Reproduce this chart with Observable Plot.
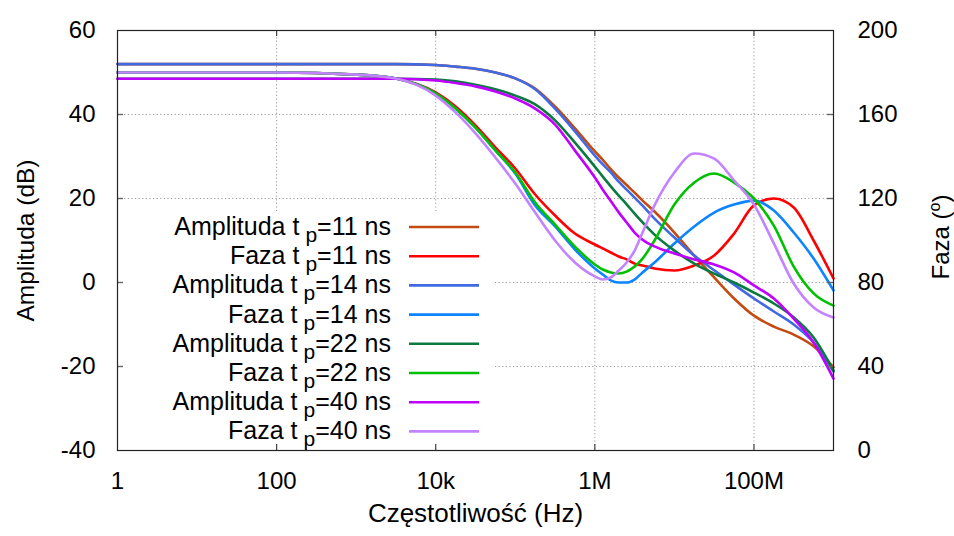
<!DOCTYPE html>
<html>
<head>
<meta charset="utf-8">
<script src="https://cdn.jsdelivr.net/npm/d3@7"></script>
<script src="https://cdn.jsdelivr.net/npm/@observablehq/plot@0.6"></script>
<style>
  html, body { margin: 0; padding: 0; background: #ffffff; }
  #chart svg { display: block; }
</style>
</head>
<body>
<div id="chart"></div>
<script>
// Frequency sample points (Hz)
const freqHz = [1, 10, 100, 1000, 3162, 10000, 17783, 31623, 56234, 100000,
  177828, 316228, 562341, 1000000, 1258925, 1584893, 1995262, 2511886, 3162278, 3981072,
  5623413, 10000000, 17782794, 31622777, 56234133, 100000000, 177827941, 316227766, 562341325, 1000000000];

// Amplitude (dB), left axis
const amp11 = [52, 52, 52, 52, 52, 51.8, 51.4, 50.9, 50.0, 48.6,
  46.2, 41.9, 36.7, 31.2, 29.2, 27.0, 25.0, 23.2, 21.4, 19.5,
  16.9, 11.9, 6.4, 1.2, -3.8, -7.9, -10.5, -12.4, -15.2, -20.2];
const amp14 = [52, 52, 52, 52, 52, 51.8, 51.4, 50.9, 50.0, 48.6,
  46.0, 41.4, 36.0, 30.2, 28.1, 26.2, 24.0, 22.1, 20.2, 18.3,
  15.2, 10.7, 6.4, 2.9, -0.5, -3.8, -6.9, -10.0, -14.3, -21.2];
const amp22 = [48.5, 48.5, 48.5, 48.5, 48.5, 48.3, 47.9, 47.1, 46.0, 44.5,
  42.4, 38.6, 33.3, 27.6, 25.2, 22.9, 20.7, 18.6, 16.4, 14.3,
  11.4, 7.6, 4.5, 2.1, 0.0, -2.4, -5.0, -8.3, -13.1, -21.0];
const amp40 = [48.5, 48.5, 48.5, 48.5, 48.5, 48.1, 47.5, 46.7, 45.5, 43.8,
  41.4, 37.6, 31.4, 25.0, 22.1, 19.4, 16.7, 14.3, 11.9, 10.2,
  8.6, 6.9, 5.5, 4.3, 2.4, -0.7, -3.8, -8.6, -14.3, -22.9];

// Phase (degrees), right axis
const phase11 = [180, 180, 180, 179.0, 177.1, 170.5, 163.8, 154.8, 144.3, 134.3,
  121.9, 111.9, 103.3, 98.1, 96.2, 94.3, 92.4, 91.0, 89.0, 88.1,
  86.7, 85.7, 88.1, 92.9, 103.3, 116.7, 120.0, 115.7, 100.0, 81.9];
const phase14 = [180, 180, 180, 179.0, 177.1, 170.0, 162.9, 153.8, 142.9, 131.9,
  116.7, 106.7, 95.7, 86.7, 83.8, 81.0, 80.0, 80.0, 81.4, 84.8,
  89.5, 98.6, 106.7, 113.3, 117.1, 119.0, 114.3, 103.8, 91.4, 76.2];
const phase22 = [180, 180, 180, 179.0, 177.1, 170.0, 162.9, 153.8, 142.9, 132.4,
  118.1, 107.6, 97.1, 88.6, 86.2, 84.8, 84.3, 85.2, 87.6, 91.4,
  100.0, 117.1, 127.6, 131.9, 127.6, 120.0, 107.1, 87.6, 74.8, 69.0];
const phase40 = [180, 180, 180, 179.0, 177.1, 169.0, 161.0, 151.0, 139.5, 127.1,
  113.3, 100.0, 89.5, 82.9, 81.4, 82.4, 85.7, 89.5, 95.2, 103.8,
  116.7, 132.4, 141.4, 139.0, 128.6, 117.1, 98.6, 79.5, 68.1, 63.3];

// Series metadata (in drawing / legend order)
const seriesKinds  = ["Amplituda", "Faza", "Amplituda", "Faza", "Amplituda", "Faza", "Amplituda", "Faza"];
const seriesTp     = ["11", "11", "14", "14", "22", "22", "40", "40"];
const seriesValues = [amp11, phase11, amp14, phase14, amp22, phase22, amp40, phase40];
const seriesColors = ["#c44a12", "#ff0000", "#4169e1", "#0a84ff", "#0a7a40", "#00c000", "#c000ff", "#c383ff"];

// Axes
const xTickValues = [1, 100, 10000, 1000000, 100000000];
const xTickLabels = ["1", "100", "10k", "1M", "100M"];
const ampTicks   = [-40, -20, 0, 20, 40, 60];
const phaseTicks = [0, 40, 80, 120, 160, 200];
const ampDomain = [-40, 60];
const phaseDomain = [0, 200];

// map a phase value onto the amplitude (left) scale
const phaseToAmp = p => ampDomain[0] + (p - phaseDomain[0]) * (ampDomain[1] - ampDomain[0]) / (phaseDomain[1] - phaseDomain[0]);

const FONT = "'Liberation Sans', Arial, Helvetica, sans-serif";

const lineMarks = seriesValues.map((vals, i) => {
  const rows = freqHz.map((f, j) => ({f, v: vals[j]}));
  const isPhase = seriesKinds[i] === "Faza";
  return Plot.line(rows, {
    x: "f",
    y: isPhase ? d => phaseToAmp(d.v) : "v",
    stroke: seriesColors[i],
    strokeWidth: 2.6,
    curve: "monotone-x"
  });
});

const gridX = xTickValues.slice(1);
const gridY = ampTicks.slice(1, -1);

const plot = Plot.plot({
  width: 954,
  height: 536,
  marginLeft: 117,
  marginRight: 121,
  marginTop: 30,
  marginBottom: 86,
  style: {fontFamily: FONT, fontSize: "24px", color: "#000", background: "#fff"},
  x: {type: "log", domain: [1, 1e9]},
  y: {domain: ampDomain},
  marks: [
    Plot.ruleX(gridX, {x: d => d, stroke: "#9a9a9a", strokeWidth: 1, strokeDasharray: "1.2,2.4"}),
    Plot.ruleY(gridY, {y: d => d, stroke: "#9a9a9a", strokeWidth: 1, strokeDasharray: "1.2,2.4"}),
    ...lineMarks,
    Plot.tickX(gridX, {x: d => d, insetTop: 414, stroke: "#444", strokeWidth: 1.2}),
    Plot.tickX(gridX, {x: d => d, insetBottom: 414, stroke: "#444", strokeWidth: 1.2}),
    Plot.tickY(gridY, {y: d => d, insetRight: 710, stroke: "#666", strokeWidth: 1.4}),
    Plot.tickY(gridY, {y: d => d, insetLeft: 710, stroke: "#666", strokeWidth: 1.4}),
    Plot.frame({stroke: "#222", strokeWidth: 1.2}),
    Plot.axisX(xTickValues, {tickSize: 0, tickPadding: 21, label: null, fontSize: 24,
      tickFormat: d => xTickLabels[xTickValues.indexOf(d)]}),
    Plot.axisY(ampTicks, {anchor: "left", tickSize: 0, tickPadding: 22, label: null, fontSize: 24,
      tickFormat: d => String(d)}),
    Plot.axisY(ampTicks, {anchor: "right", tickSize: 0, tickPadding: 24, label: null, fontSize: 24,
      tickFormat: d => String(phaseTicks[ampTicks.indexOf(d)])}),
    Plot.text(["Częstotliwość (Hz)"], {frameAnchor: "bottom", dy: 71, fontSize: 26, textAnchor: "middle"}),
    Plot.text(["Amplituda (dB)"], {frameAnchor: "left", dx: -91, rotate: -90, fontSize: 24.5, textAnchor: "middle"})
  ]
});

document.getElementById("chart").appendChild(plot);

// ---- legend (opaque key box) and right-axis label with superscript ----
const svg = d3.select(plot);
const firstLine = plot.querySelector('g[aria-label="line"]');
const keyBg = document.createElementNS("http://www.w3.org/2000/svg", "rect");
keyBg.setAttribute("x", 118);
keyBg.setAttribute("y", 211);
keyBg.setAttribute("width", 375);
keyBg.setAttribute("height", 233);
keyBg.setAttribute("fill", "#ffffff");
firstLine.parentNode.insertBefore(keyBg, firstLine);

const key = svg.append("g").attr("font-family", FONT).attr("font-size", 25).attr("fill", "#000");
seriesKinds.forEach((kind, i) => {
  const ry = 227 + i * 29.2;
  const t = key.append("text").attr("x", 391).attr("y", ry + 8).attr("text-anchor", "end");
  t.append("tspan").text(kind + " t");
  t.append("tspan").attr("dx", 6).attr("dy", 7).attr("font-size", 21).text("p");
  t.append("tspan").attr("dy", -7).text("=" + seriesTp[i] + " ns");
  key.append("line")
    .attr("x1", 409).attr("x2", 479).attr("y1", ry).attr("y2", ry)
    .attr("stroke", seriesColors[i]).attr("stroke-width", 2.6);
});

const faza = svg.append("text")
  .attr("font-family", FONT).attr("font-size", 24).attr("fill", "#000")
  .attr("text-anchor", "middle")
  .attr("transform", "translate(949,237) rotate(-90)");
faza.append("tspan").text("Faza (");
faza.append("tspan").attr("dy", -9).attr("font-size", 16).text("o");
faza.append("tspan").attr("dy", 9).text(")");
</script>
</body>
</html>
